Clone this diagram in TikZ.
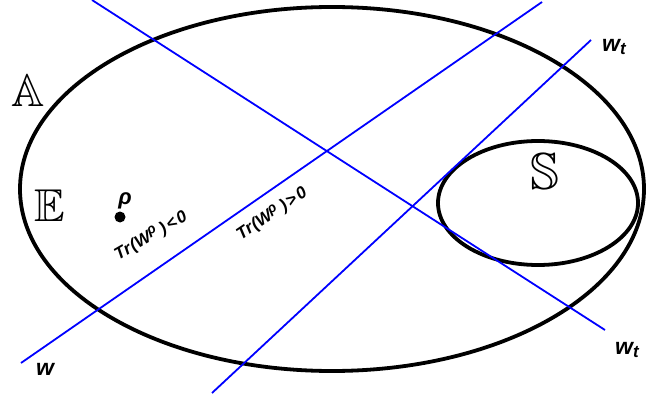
\documentclass[tikz,border=0pt]{standalone}
\usepackage{amssymb}
\usepackage{fontspec}
\newfontfamily\labfont{Liberation Sans}
\tikzset{
  setline/.style={line width=3.8pt, black},
  cutline/.style={line width=1.8pt, blue},
  lab/.style={font=\labfont\bfseries\itshape\fontsize{23}{26}\selectfont, inner sep=0pt},
  trlab/.style={font=\labfont\bfseries\itshape\fontsize{17}{19}\selectfont, inner sep=0pt},
  bblab/.style={inner sep=0pt}
}
\newcommand{\suprho}{\raisebox{0.6ex}{\fontsize{14}{15}\selectfont ρ}}
\begin{document}
\begin{tikzpicture}[x=1pt,y=-1pt]
\useasboundingbox (0,0) rectangle (648,401);
% sets
\draw[setline] (332,189) ellipse [x radius=312, y radius=182];
\draw[setline] (538,203) ellipse [x radius=100, y radius=62];
% hyperplanes
\coordinate (a1) at (92,0);
\coordinate (a2) at (605,330);
\coordinate (b1) at (21,363);
\coordinate (b2) at (542,2);
\coordinate (c1) at (212,393);
\coordinate (c2) at (591,40);
\draw[cutline] (a1) -- (a2);
\draw[cutline] (b1) -- (b2);
\draw[cutline] (c1) -- (c2);
% labels
\node[bblab] (A) at (28,91) {\fontsize{46}{50}\selectfont$\mathbb{A}$};
\node[bblab] (E) at (50,206) {\fontsize{46}{50}\selectfont$\mathbb{E}$};
\node[bblab] (S) at (545,172) {\fontsize{52}{56}\selectfont$\mathbb{S}$};
\node[lab] (wt1) at (614,47) {w\raisebox{-0.3ex}{\fontsize{17}{18}\selectfont t}};
\node[lab] (wt2) at (627,350) {w\raisebox{-0.3ex}{\fontsize{17}{18}\selectfont t}};
\node[lab] (w) at (45,369) {w};
\node[lab,font=\labfont\bfseries\itshape\fontsize{22}{24}\selectfont] (rho) at (125,201) {ρ};
\fill (120,217) circle [radius=5.5] coordinate (rhopt);
\node[trlab, rotate=30] (neg) at (151,236) {Tr\hspace{1pt}(W\suprho\hspace{4pt})\hspace{2pt}<\hspace{2pt}0};
\node[trlab, rotate=34] (pos) at (272,214) {Tr\hspace{1pt}(W\suprho\hspace{4pt})\hspace{2pt}>\hspace{2pt}0};
\end{tikzpicture}
\end{document}
